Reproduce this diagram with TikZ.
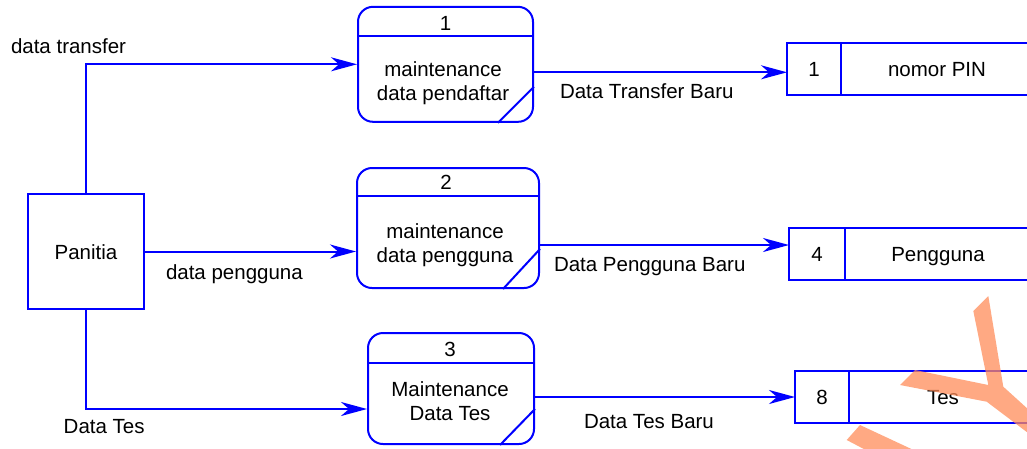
\documentclass[tikz,border=0pt]{standalone}
\usepackage{fontspec}
\setmainfont{Liberation Sans}
\usetikzlibrary{arrows.meta,positioning}
\tikzset{font=\fontsize{20.5}{24}\selectfont}
\tikzset{every picture/.style={line width=2pt}}
\definecolor{dfdblue}{RGB}{0,0,255}
\definecolor{wmark}{RGB}{255,140,90}
\tikzstyle{ent}=[draw=dfdblue,minimum width=116pt,minimum height=115pt,inner sep=0pt,text height=15pt,text depth=0pt]
\tikzstyle{proc}=[draw=dfdblue,rounded corners=15pt,inner sep=0pt]
\tikzstyle{cell}=[draw=dfdblue,minimum height=52pt,inner sep=0pt,outer sep=0pt,text height=15pt,text depth=0pt]
\tikzstyle{lbl}=[inner sep=0pt]
\begin{document}
\begin{tikzpicture}[x=1pt,y=-1pt,>={Stealth[length=26pt,width=14pt,inset=8pt]}]
\useasboundingbox (0,0) rectangle (1027,448);
% entity
\node[ent] (E) at (86,251.5) {Panitia};
% processes
\node[proc,minimum width=175pt,minimum height=115pt] (P1) at (445.5,64.3) {};
\node[proc,minimum width=182pt,minimum height=120pt] (P2) at (448,228) {};
\node[proc,minimum width=166pt,minimum height=111pt] (P3) at (451,388.5) {};
\draw[dfdblue] ([yshift=-30.6pt]P1.north west) -- ([yshift=-30.6pt]P1.north east);
\draw[dfdblue] ([yshift=-29pt]P2.north west) -- ([yshift=-29pt]P2.north east);
\draw[dfdblue] ([yshift=-31pt]P3.north west) -- ([yshift=-31pt]P3.north east);
\draw[dfdblue] ([xshift=-36pt]P1.south east) -- ([yshift=36pt]P1.south east);
\draw[dfdblue] ([xshift=-37pt]P2.south east) -- ([yshift=40pt]P2.south east);
\draw[dfdblue] ([xshift=-35pt]P3.south east) -- ([yshift=36pt]P3.south east);
\node[lbl,anchor=base] (P1n) at (445.5,30) {1};
\node[lbl,anchor=base] (P2n) at (446,189.3) {2};
\node[lbl,anchor=base] (P3n) at (450,356) {3};
\node[lbl,align=center] (P1t) at (443,83) {maintenance\\data pendaftar};
\node[lbl,align=center] (P2t) at (445,245.3) {maintenance\\data pengguna};
\node[lbl,align=center] (P3t) at (450,401.6) {Maintenance\\Data Tes};
% data stores
\node[cell,minimum width=54pt] (S1) at (814,69) {1};
\node[cell,minimum width=192pt,anchor=west] (S1name) at (S1.east) {nomor PIN};
\node[cell,minimum width=56pt] (S2) at (817,254) {4};
\node[cell,minimum width=186pt,anchor=west] (S2name) at (S2.east) {Pengguna};
\node[cell,minimum width=54pt] (S3) at (822,397) {8};
\node[cell,minimum width=188pt,anchor=west] (S3name) at (S3.east) {Tes};
% flows
\draw[->,dfdblue] (E.north) |- (P1.west);
\draw[->,dfdblue] (E.east) -- (E.east -| P2.west);
\draw[->,dfdblue] (E.south) |- ([yshift=-20.5pt]P3.west);
\draw[->,dfdblue] ([yshift=-8pt]P1.east) -- ([yshift=-8pt]P1.east -| S1.west);
\draw[->,dfdblue] ([yshift=-17pt]P2.east) -- ([yshift=-17pt]P2.east -| S2.west);
\draw[->,dfdblue] (P3.east |- S3.west) -- (S3.west);
\node[lbl,anchor=base west] (Ltr) at (10,53) {data transfer};
\node[lbl,anchor=base west] (Lpg) at (165,279) {data pengguna};
\node[lbl,anchor=base west] (Lts) at (62.7,433.3) {Data Tes};
\node[lbl,anchor=base west] (Ltb) at (559,98.3) {Data Transfer Baru};
\node[lbl,anchor=base west] (Lpb) at (553,271) {Data Pengguna Baru};
\node[lbl,anchor=base west] (Lte) at (583,428) {Data Tes Baru};
% watermark
\fill[wmark,opacity=0.75] (973.3,311) -- (988.3,296) -- (1003.3,386.7) -- (1040,420) -- (1040,442) -- (986.7,401.7) -- (900,385) -- (915,370) -- (988.3,385) -- cycle;
\fill[wmark,opacity=0.75] (846.7,440) -- (860,425) -- (935,460) -- (900,468) -- cycle;
\end{tikzpicture}
\end{document}
